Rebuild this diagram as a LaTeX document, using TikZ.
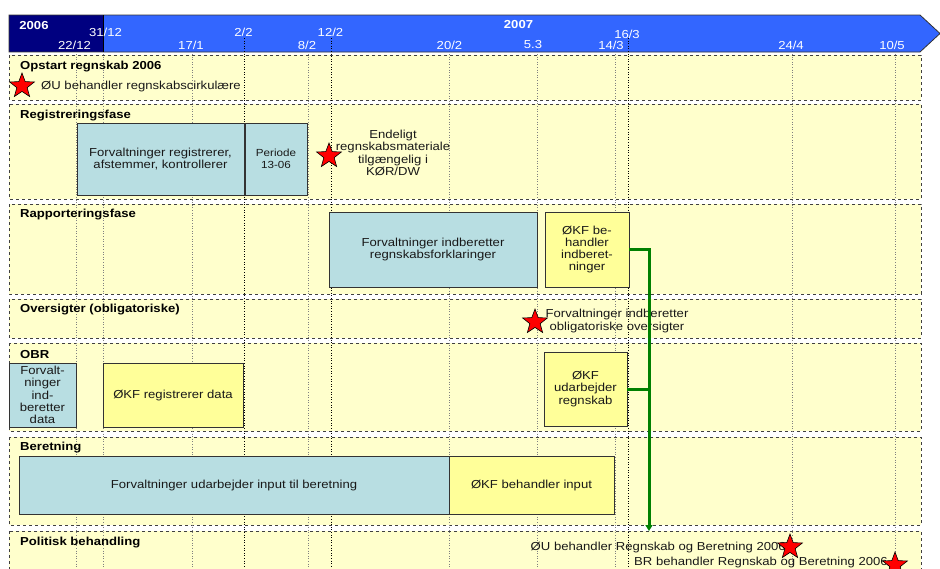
\documentclass[tikz,border=0pt]{standalone}
\usepackage{fontspec}
\setmainfont{Liberation Sans}[FakeStretch=1.13]
\usetikzlibrary{positioning,shapes.geometric,arrows.meta}
\definecolor{lanefill}{HTML}{FFFFCC}
\definecolor{boxblue}{HTML}{B8DEE2}
\definecolor{boxyellow}{HTML}{FFFF99}
\definecolor{barnavy}{HTML}{000080}
\definecolor{barblue}{HTML}{3366FF}
\definecolor{arrgreen}{HTML}{008000}

\begin{document}
\begin{tikzpicture}[x=1pt, y=-1pt,
    font=\fontsize{11.6}{12.3}\selectfont,
    lane/.style={draw=black!75, dashed, fill=lanefill, line width=0.6pt},
    lanetitle/.style={anchor=west, inner sep=0pt, font=\fontsize{11.6}{12.3}\selectfont\bfseries},
    task/.style={draw=black!80, line width=0.7pt, align=center, inner sep=1pt, text=black!90},
    bluebox/.style={task, fill=boxblue},
    yelbox/.style={task, fill=boxyellow},
    milestone/.style={star, star points=5, star point ratio=2.4, fill=red, draw=black, line width=0.6pt, minimum size=26pt, inner sep=0pt},
    note/.style={align=center, inner sep=0pt, text=black!90},
    datelbl/.style={text=white, inner sep=0pt},
    gridline/.style={gray, dotted, line width=0.6pt},
    flow/.style={arrgreen, line width=3pt}
]
    \useasboundingbox (0,0) rectangle (940,568);
    \clip (0,0) rectangle (940,568);

    % timeline bar
    \fill[barblue] (103,15) -- (920,15) -- (940,33.5) -- (920,52) -- (103,52) -- cycle;
    \fill[barnavy] (9,15) rectangle (103,52);
    \draw[black!80, line width=0.8pt] (9,15) -- (920,15) -- (940,33.5) -- (920,52) -- (9,52) -- cycle;
    \draw[black, line width=0.8pt] (103,15) -- (103,52);

    \node[datelbl, font=\fontsize{11.6}{12.3}\selectfont\bfseries] (y2006) at (34,26) {2006};
    \node[datelbl, font=\fontsize{11.6}{12.3}\selectfont\bfseries] (y2007) at (518.5,25) {2007};
    \node[datelbl] (d3112) at (105.5,32.5) {31/12};
    \node[datelbl] (d2212) at (74.5,45) {22/12};
    \node[datelbl] (d171) at (191,45) {17/1};
    \node[datelbl] (d22) at (243.5,32.5) {2/2};
    \node[datelbl] (d82) at (307,45) {8/2};
    \node[datelbl] (d122) at (330.5,32.5) {12/2};
    \node[datelbl] (d202) at (449.5,45) {20/2};
    \node[datelbl] (d53) at (533,45) {5.3};
    \node[datelbl] (d143) at (611,45) {14/3};
    \node[datelbl] (d163) at (627,34) {16/3};
    \node[datelbl] (d244) at (791,45) {24/4};
    \node[datelbl] (d105) at (892,45) {10/5};

    % lanes
    \draw[lane] (9,55) rectangle (921,100);
    \draw[lane] (9,104) rectangle (921,199);
    \draw[lane] (9,204) rectangle (921,294);
    \draw[lane] (9,299) rectangle (921,338);
    \draw[lane] (9,343) rectangle (921,431);
    \draw[lane] (9,437) rectangle (921,525);
    \draw[lane] (9,531) rectangle (921,590);

    % date lines
    \foreach \gx in {76,103,192,308,449,537,615,792,895}
        \draw[gridline] (\gx,54) -- (\gx,568);
    \foreach \gx in {244,331,628}
        \draw[gridline, black] (\gx,38) -- (\gx,568);

    \node[lanetitle] (topstart) at (20,66.5) {Opstart regnskab 2006};
    \node[lanetitle] (treg) at (20,116) {Registreringsfase};
    \node[lanetitle] (trap) at (20,215) {Rapporteringsfase};
    \node[lanetitle] (tovs) at (20,310) {Oversigter (obligatoriske)};
    \node[lanetitle] (tobr) at (20,355) {OBR};
    \node[lanetitle] (tber) at (20,447.5) {Beretning};
    \node[lanetitle] (tpol) at (20,543) {Politisk behandling};

    % tasks
    \node[bluebox, minimum width=167pt, minimum height=72pt] (forvreg) at (160.5,159) {Forvaltninger registrerer,\\afstemmer, kontrollerer};
    \node[bluebox, minimum width=62pt, minimum height=72pt, font=\fontsize{10.3}{12}\selectfont] (periode) at (276,159) {Periode\\13-06};
    \node[bluebox, minimum width=208pt, minimum height=75pt] (forvind) at (433,249.5) {Forvaltninger indberetter\\regnskabsforklaringer};
    \node[yelbox, minimum width=84pt, minimum height=75pt] (okfind) at (587,249.5) {ØKF be-\\handler\\indberet-\\ninger};
    \node[bluebox, minimum width=67pt, minimum height=64pt, inner sep=0pt] (forvdata) at (42.5,395) {Forvalt-\\ninger\\ind-\\beretter\\data};
    \node[yelbox, minimum width=140pt, minimum height=64pt] (okfreg) at (173,395) {ØKF registrerer data};
    \node[yelbox, minimum width=83pt, minimum height=74pt] (okfudarb) at (585.5,389) {ØKF\\udarbejder\\regnskab};
    \node[bluebox, minimum width=430pt, minimum height=58pt] (forvber) at (234,485) {Forvaltninger udarbejder input til beretning};
    \node[yelbox, minimum width=165pt, minimum height=58pt] (okfber) at (531.5,485) {ØKF behandler input};

    % milestones
    \node[note, anchor=west] (txtcirk) at (41,86) {ØU behandler regnskabscirkulære};
    \node[milestone] (strcirk) at (22,86) {};
    \node[note] (txtkor) at (393,153) {Endeligt\\regnskabsmateriale\\tilgængelig i\\KØR/DW};
    \node[milestone] (strkor) at (329,156) {};
    \node[note] (txtovs) at (617,321) {Forvaltninger indberetter\\obligatoriske oversigter};
    \node[milestone] (strovs) at (535,322) {};
    \node[note, anchor=east] (txtou) at (786,547) {ØU behandler Regnskab og Beretning 2006};
    \node[milestone] (strou) at (790,547) {};
    \node[note, anchor=east] (txtbr) at (888,562) {BR behandler Regnskab og Beretning 2006};
    \node[milestone] (strbr) at (895,565) {};

    % flow to politisk behandling
    \coordinate (gbend) at (649,249.5);
    \coordinate (gend) at (649,531);
    \draw[flow, -{Triangle[length=6pt,width=7pt]}] (okfind.east) -- (gbend) -- (gend);
    \draw[flow] (okfudarb.east) -- (okfudarb.east -| gbend);
\end{tikzpicture}
\end{document}
